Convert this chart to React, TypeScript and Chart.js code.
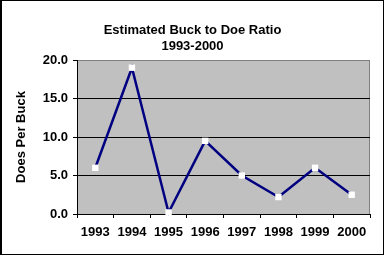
import React, { useEffect, useRef } from "react";
import { Chart, registerables } from "chart.js";

Chart.register(...registerables);

const TITLE_LINES = ["Estimated Buck to Doe Ratio", "1993-2000"];
const Y_TITLE = "Does Per Buck";
const YEARS = ["1993", "1994", "1995", "1996", "1997", "1998", "1999", "2000"];
const RATIO = [6.0, 19.0, 0.2, 9.5, 5.0, 2.2, 6.0, 2.5];
const Y_MIN = 0;
const Y_MAX = 20;
const Y_STEP = 5;

const FONT = "'Liberation Sans', Arial, sans-serif";

const framePlugin = {
  id: "frame",
  beforeDraw(chart: any) {
    const { ctx, width, height, chartArea } = chart;
    ctx.save();
    ctx.fillStyle = "#ffffff";
    ctx.fillRect(0, 0, width, height);
    ctx.fillStyle = "#c0c0c0";
    ctx.fillRect(chartArea.left, chartArea.top, chartArea.right - chartArea.left, chartArea.bottom - chartArea.top);
    ctx.strokeStyle = "#808080";
    ctx.lineWidth = 1;
    ctx.beginPath();
    ctx.moveTo(chartArea.right - 0.5, chartArea.top);
    ctx.lineTo(chartArea.right - 0.5, chartArea.bottom);
    ctx.stroke();
    ctx.restore();
  },
  afterDraw(chart: any) {
    const { ctx } = chart;
    ctx.save();
    ctx.fillStyle = "#000000";
    ctx.fillRect(0, 0, 2, 255);
    ctx.fillRect(0, 0, 384, 1);
    ctx.fillRect(383, 0, 1, 255);
    ctx.fillRect(0, 254, 384, 1);
    ctx.restore();
  },
};

export default function App() {
  const ref = useRef<HTMLCanvasElement | null>(null);
  useEffect(() => {
    if (!ref.current) return;
    const chart = new Chart(ref.current, {
      type: "line",
      data: {
        labels: YEARS,
        datasets: [
          {
            data: RATIO,
            borderColor: "#000080",
            borderWidth: 2.5,
            pointStyle: "rect",
            pointRadius: 4.5,
            pointBackgroundColor: "#ffffff",
            pointBorderColor: "#ffffff",
            pointBorderWidth: 0,
            tension: 0,
            clip: false as any,
          },
        ],
      },
      options: {
        responsive: false,
        animation: false,
        devicePixelRatio: 1,
        layout: { padding: 0 },
        plugins: {
          legend: { display: false },
          tooltip: { enabled: false },
          title: {
            display: true,
            text: TITLE_LINES,
            color: "#000000",
            font: { family: FONT, size: 13, weight: "bold", lineHeight: 16 / 13 },
            padding: { top: 22, bottom: 6 },
          },
        },
        scales: {
          x: {
            offset: true,
            grid: {
              offset: true,
              drawOnChartArea: false,
              drawTicks: true,
              tickLength: 4,
              tickColor: "#000000",
              color: "#000000",
            },
            border: { color: "#000000", width: 1 },
            ticks: {
              color: "#000000",
              font: { family: FONT, size: 13, weight: "bold" },
              padding: 7,
              maxRotation: 0,
              autoSkip: false,
            },
            afterFit: (s: any) => {
              s.height = 42;
            },
          },
          y: {
            min: Y_MIN,
            max: Y_MAX,
            grid: {
              color: (c: any) => (c.tick && c.tick.value === Y_MAX ? "#808080" : "#000000"),
              tickColor: "#000000",
              tickLength: 4,
              lineWidth: 1,
            },
            border: { color: "#000000", width: 1 },
            ticks: {
              stepSize: Y_STEP,
              color: "#000000",
              font: { family: FONT, size: 13, weight: "bold" },
              padding: 5,
              callback: (v: any) => Number(v).toFixed(1),
            },
            title: {
              display: true,
              text: Y_TITLE,
              color: "#000000",
              font: { family: FONT, size: 13, weight: "bold" },
              padding: { top: 14, bottom: 0 },
            },
            afterFit: (s: any) => {
              s.width = 77;
            },
          },
          yRight: {
            position: "right",
            display: true,
            grid: { display: false, drawTicks: false },
            border: { display: false },
            ticks: { display: false },
            afterFit: (s: any) => {
              s.width = 15;
            },
          },
        },
      } as any,
      plugins: [framePlugin],
    });
    return () => chart.destroy();
  }, []);
  return (
    <div style={{ position: "fixed", left: 0, top: 0, width: 385, height: 256 }}>
      <canvas ref={ref} width={385} height={256} style={{ display: "block" }} />
    </div>
  );
}
